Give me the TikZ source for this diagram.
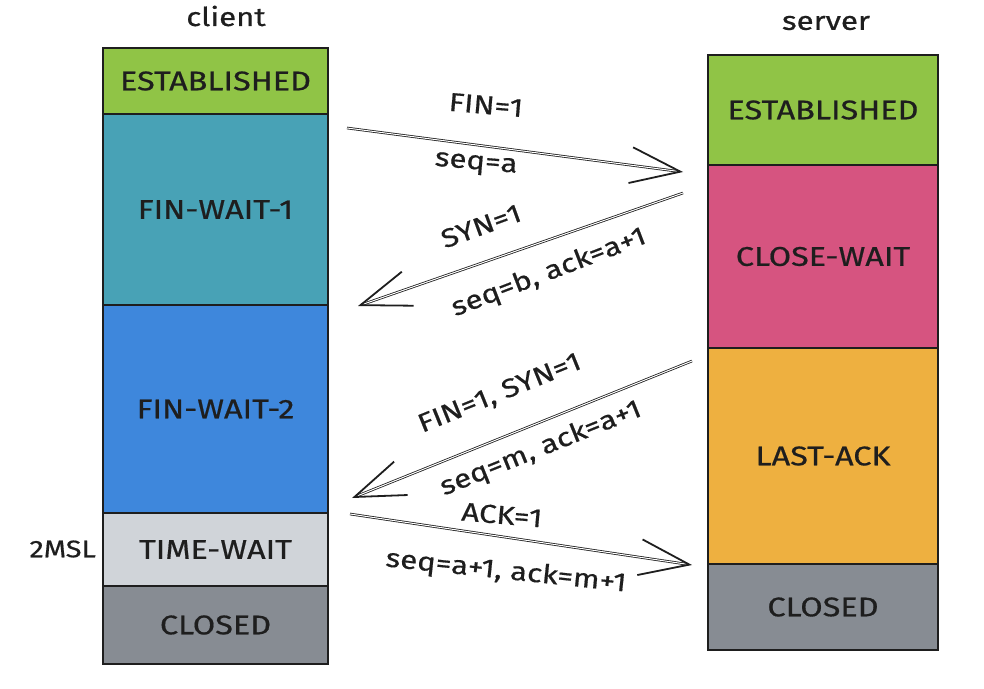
\documentclass[tikz,border=0pt]{standalone}
\usepackage{fontspec}
\setmainfont{Fira Sans}[FakeStretch=1.2, FakeBold=0.6]
\usetikzlibrary{arrows.meta}

% state fills
\definecolor{estgreen}{RGB}{144,196,70}
\definecolor{fwone}{RGB}{72,162,182}
\definecolor{fwtwo}{RGB}{62,135,220}
\definecolor{timewait}{RGB}{208,212,217}
\definecolor{closedgray}{RGB}{135,140,147}
\definecolor{closewait}{RGB}{214,84,128}
\definecolor{lastack}{RGB}{238,176,64}
\definecolor{ink}{RGB}{30,30,30}

\begin{document}
\begin{tikzpicture}[x=1pt,y=-1pt,
  statebox/.style={draw=ink, line width=1.8pt, rectangle, anchor=north west,
    inner sep=0pt, outer sep=0pt, text=ink,
    font=\fontsize{27}{31}\selectfont},
  clientbox/.style={statebox, minimum width=225pt},
  serverbox/.style={statebox, minimum width=230pt},
  msg/.style={draw=ink, line width=0.8pt, double=white, double distance=1pt,
    -{Straight Barb[length=50pt, width=36pt, line width=1.8pt]}},
  lbl/.style={text=ink, inner sep=0pt, font=\fontsize{26}{30}\selectfont},
  head/.style={text=ink, inner sep=0pt, font=\fontsize{26}{30}\selectfont}
]
\useasboundingbox (0,0) rectangle (984,688);

% column headers
\node[head] (hclient) at (226,16) {client};
\node[head] (hserver) at (826,23) {server};

% client states
\node[clientbox, fill=estgreen,   minimum height=66pt]  (cEst) at (103,48)  {ESTABLISHED};
\node[clientbox, fill=fwone,      minimum height=191pt] (cFw1) at (103,114) {FIN-WAIT-1};
\node[clientbox, fill=fwtwo,      minimum height=208pt] (cFw2) at (103,305) {FIN-WAIT-2};
\node[clientbox, fill=timewait,   minimum height=73pt]  (cTw)  at (103,513) {TIME-WAIT};
\node[clientbox, fill=closedgray, minimum height=78pt]  (cCl)  at (103,586) {CLOSED};
\node[lbl, anchor=east, font=\fontsize{24}{28}\selectfont] (msl) at (96,549) {2MSL};

% server states
\node[serverbox, fill=estgreen,   minimum height=110pt] (sEst) at (708,55)  {ESTABLISHED};
\node[serverbox, fill=closewait,  minimum height=183pt] (sCw)  at (708,165) {CLOSE-WAIT};
\node[serverbox, fill=lastack,    minimum height=216pt] (sLa)  at (708,348) {LAST-ACK};
\node[serverbox, fill=closedgray, minimum height=86pt]  (sCl)  at (708,564) {CLOSED};

% message end points
\coordinate (m1a) at (347,128);  \coordinate (m1b) at (683,172);
\coordinate (m2a) at (683,193);  \coordinate (m2b) at (358,306);
\coordinate (m3a) at (692,361);  \coordinate (m3b) at (352,498);
\coordinate (m4a) at (350,514);  \coordinate (m4b) at (692,565);

% messages
\draw[msg] (m1a) -- (m1b);
\draw[msg] (m2a) -- (m2b);
\draw[msg] (m3a) -- (m3b);
\draw[msg] (m4a) -- (m4b);

% message labels
\node[lbl, rotate=-5] (l1a) at (486,105) {FIN=1};
\node[lbl, rotate=-5] (l1b) at (476,165) {seq=a};
\node[lbl, rotate=20] (l2a) at (481,226) {SYN=1};
\node[lbl, rotate=21] (l2b) at (549,273) {seq=b, ack=a+1};
\node[lbl, rotate=22] (l3a) at (500,394) {FIN=1, SYN=1};
\node[lbl, rotate=22] (l3b) at (541,449) {seq=m, ack=a+1};
\node[lbl, rotate=-5] (l4a) at (502,515) {ACK=1};
\node[lbl, rotate=-6] (l4b) at (506,572) {seq=a+1, ack=m+1};
\end{tikzpicture}
\end{document}
